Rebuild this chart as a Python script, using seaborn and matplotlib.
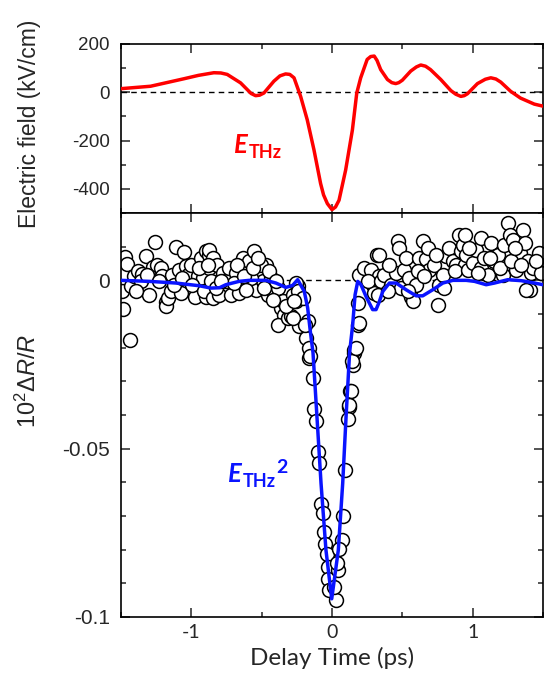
import matplotlib
matplotlib.use("Agg")
import matplotlib.pyplot as plt
import seaborn as sns

# THz electric field trace (ps, kV/cm)
field_t = [-1.50, -1.29, -1.053, -0.95, -0.84, -0.79, -0.745, -0.65, -0.575, -0.543,
           -0.515, -0.484, -0.413, -0.37, -0.33, -0.30, -0.27, -0.223, -0.176, -0.128,
           -0.081, -0.06, -0.033, 0.0, 0.025, 0.05, 0.097, 0.145, 0.176, 0.204,
           0.25, 0.275, 0.30, 0.32, 0.346, 0.394, 0.425, 0.453, 0.475, 0.50,
           0.56, 0.60, 0.631, 0.665, 0.70, 0.773, 0.845, 0.88, 0.916, 0.94,
           0.963, 1.034, 1.09, 1.129, 1.165, 1.20, 1.27, 1.34, 1.438, 1.504]
field_e = [15, 25, 56, 70, 81, 80, 74, 39, -5, -14,
           -12, -3, 46, 68, 76, 74, 60, -17, -114, -239,
           -378, -425, -461, -486, -475, -447, -322, -156, -3, 60,
           136, 148, 150, 132, 94, 53, 40, 36, 40, 50,
           88, 105, 113, 108, 94, 53, 7, -8, -17, -14,
           -6, 36, 54, 60, 55, 42, 4, -24, -49, -58]

# E_THz^2 curve (scaled to dR/R)
fit_t = [-1.50, -1.30, -1.11, -0.944, -0.861, -0.80, -0.755, -0.66, -0.589, -0.47,
         -0.399, -0.328, -0.28, -0.244, -0.197, -0.173, -0.154, -0.135, -0.107, -0.078,
         -0.043, -0.002, 0.045, 0.076, 0.100, 0.125, 0.147, 0.164, 0.183, 0.206,
         0.242, 0.289, 0.313, 0.335, 0.361, 0.408, 0.456, 0.527, 0.598, 0.645,
         0.716, 0.788, 0.859, 0.954, 1.013, 1.096, 1.155, 1.250, 1.345, 1.440, 1.50]
fit_v = [0.0, -0.0003, -0.0008, -0.0016, -0.0023, -0.0022, -0.0013, -0.0003, 0.0, 0.0,
         -0.0008, -0.0021, -0.0015, 0.0002, -0.0033, -0.0082, -0.0152, -0.0215, -0.0405, -0.0603,
         -0.0801, -0.0946, -0.0801, -0.0603, -0.0405, -0.0215, -0.0132, -0.0043, -0.0003, -0.0013,
         -0.0048, -0.0087, -0.0087, -0.0065, -0.0033, -0.0008, -0.0008, -0.0028, -0.0046, -0.0046,
         -0.0028, -0.0008, 0.0, 0.0, -0.0003, -0.0013, -0.0008, 0.0002, -0.0001, -0.0008, -0.0013]

# measured 10^2 dR/R
scan_t = [-1.471, -1.455, -1.490, -1.485, -1.438, -1.431, -1.407, -1.376, -1.348, -1.324,
          -1.300, -1.360, -1.272, -1.257, -1.241, -1.217, -1.205, -1.182, -1.177, -1.163,
          -1.146, -1.134, -1.106, -1.087, -1.075, -1.051, -1.039, -1.027, -1.004, -0.973,
          -0.956, -0.933, -0.916, -0.893, -0.897, -0.873,
          -1.395, -1.312, -1.229, -1.122, -1.063, -0.992, -0.945, -0.909, -0.873,
          -0.873, -0.849, -0.814, -0.861, -0.849, -0.802, -0.778, -0.755, -0.719, -0.731,
          -0.684, -0.660, -0.636, -0.612, -0.589, -0.553, -0.541, -0.517, -0.494, -0.470,
          -0.458, -0.434, -0.411, -0.387, -0.363, -0.339, -0.387, -0.316, -0.292, -0.351,
          -0.280, -0.256, -0.244, -0.233, -0.826, -0.695, -0.577, -0.506, -0.422, -0.328,
          -0.885, -0.790, -0.672, -0.624, -0.565, -0.529, -0.482, -0.446, -0.399, -0.612,
          -0.256, -0.244, -0.209, -0.268, -0.280, -0.173, -0.185, -0.161, -0.161, -0.192,
          -0.154, -0.138, -0.126, -0.114, -0.102, -0.090, -0.078, -0.066, -0.059, -0.050,
          -0.036, -0.026, -0.031, -0.019, 0.029,
          0.159, 0.147, 0.130, 0.123, 0.112, 0.093, 0.076, 0.069, 0.052, 0.045,
          0.017, 0.036, 0.183, 0.157, 0.145, 0.133, 0.121,
          0.182, 0.194, 0.171, 0.194, 0.230, 0.277, 0.289, 0.301, 0.320, 0.337, 0.254,
          0.337, 0.349, 0.373, 0.420, 0.456, 0.467, 0.479, 0.491, 0.515, 0.527,
          0.550, 0.562, 0.574, 0.598, 0.622, 0.645, 0.669, 0.681, 0.693, 0.728,
          0.752, 0.764, 0.788, 0.811, 0.835, 0.859, 0.882, 0.906, 0.918, 0.942,
          0.325, 0.396, 0.610, 0.408, 0.539, 0.657, 0.740, 0.799, 0.871, 0.930,
          0.942, 0.954, 0.966, 1.001, 1.025, 1.060, 1.060, 1.084, 1.108, 1.132,
          1.155, 1.179, 1.215, 1.226, 1.250, 1.262, 1.286, 1.310, 1.333, 1.357,
          1.369, 1.392, 1.404, 1.416, 1.428, 1.475, 1.487, 1.381,
          0.977, 1.037, 1.120, 1.191, 1.274, 1.298, 1.452, 1.345]
scan_v = [0.0068, 0.0050, -0.0031, -0.0085, -0.0178, -0.0018, 0.0012, 0.0027, 0.0019, 0.0071,
          -0.0043, -0.0003, 0.0039, 0.0114, 0.0047, 0.0037, 0.0012, -0.0064, -0.0077, -0.0051,
          -0.0033, 0.0017, 0.0098, 0.0032, -0.0038, 0.0084, 0.0042, 0.0017, 0.0047, -0.0048,
          0.0012, 0.0066, 0.0007, 0.0086, -0.0048, 0.0037,
          -0.0033, 0.0017, -0.0003, -0.0013, 0.0007, -0.0013, 0.0037, -0.0033, 0.0076,
          0.0091, 0.0066, 0.0047, -0.0003, -0.0053, -0.0043, 0.0022, -0.0003, -0.0043, 0.0037,
          0.0022, -0.0038, 0.0066, 0.0042, 0.0057, 0.0086, -0.0028, 0.0022, -0.0003, 0.0047,
          -0.0043, 0.0007, -0.0038, -0.0023, -0.0082, -0.0102, -0.0132, -0.0112, -0.0107, -0.0062,
          -0.0043, -0.0062, -0.0018, -0.0137, -0.0023, -0.0008, 0.0007, 0.0047, -0.0058, -0.0077,
          0.0047, -0.0003, 0.0047, 0.0012, 0.0037, 0.0066, -0.0023, 0.0027, -0.0003, -0.0028,
          -0.0008, -0.0033, -0.0053, -0.0062, -0.0112, -0.0122, -0.0171, -0.0201, -0.0231, -0.0132,
          -0.0226, -0.0291, -0.0383, -0.0417, -0.0509, -0.0542, -0.0665, -0.0691, -0.0747, -0.0782,
          -0.0812, -0.0851, -0.0886, -0.0921, -0.0951,
          -0.0216, -0.0251, -0.0330, -0.0377, -0.0413, -0.0562, -0.0700, -0.0772, -0.0799, -0.0861,
          -0.0911, -0.0841, -0.0132, -0.0206, -0.0241, -0.0330, -0.0369,
          -0.0067, -0.0127, -0.0201, 0.0017, 0.0037, 0.0032, -0.0013, -0.0038, 0.0076, 0.0012, -0.0003,
          0.0076, -0.0003, 0.0017, -0.0013, 0.0022, 0.0116, 0.0096, -0.0023, 0.0032, 0.0066,
          0.0007, -0.0048, -0.0062, -0.0013, 0.0066, 0.0116, 0.0062, 0.0096, 0.0032, 0.0047,
          -0.0072, -0.0013, 0.0017, 0.0071, 0.0096, 0.0057, 0.0047, 0.0136, 0.0086, 0.0047,
          -0.0043, -0.0033, 0.0027, 0.0047, -0.0033, 0.0012, 0.0076, -0.0023, 0.0027, 0.0106,
          0.0136, 0.0076, 0.0032, 0.0052, 0.0091, 0.0126, 0.0037, 0.0066, 0.0017, 0.0111,
          0.0057, 0.0076, 0.0017, 0.0106, 0.0171, 0.0136, 0.0121, 0.0032, 0.0081, 0.0151,
          0.0111, 0.0057, -0.0028, 0.0022, 0.0037, 0.0081, 0.0022, -0.0028,
          0.0096, 0.0022, 0.0066, 0.0037, 0.0057, 0.0096, 0.0057, 0.0047]

sns.set_style("ticks")
plt.rcParams["font.family"] = ["Liberation Sans", "DejaVu Sans"]
plt.rcParams["axes.unicode_minus"] = False
plt.rcParams["mathtext.fontset"] = "custom"
plt.rcParams["mathtext.rm"] = "Liberation Sans"
plt.rcParams["mathtext.it"] = "Liberation Sans:italic"
plt.rcParams["mathtext.bf"] = "Liberation Sans:bold"

fig = plt.figure(figsize=(5.47, 6.81), dpi=100)
ax1 = fig.add_axes([0.2212, 0.6872, 0.7715, 0.2482])
ax2 = fig.add_axes([0.2212, 0.0940, 0.7715, 0.5932], sharex=ax1)

# top: electric field
ax1.axhline(0, color="black", lw=1, ls=(0, (4, 3)), zorder=1)
sns.lineplot(x=field_t, y=field_e, ax=ax1, color="#ff0000", lw=2.5, estimator=None, zorder=3)
ax1.set_ylim(-500, 200)
ax1.set_yticks([-400, -200, 0, 200])
ax1.set_yticks(range(-500, 201, 100), minor=True)
ax1.set_yticklabels(["-400", "-200", "0", "200"], fontsize=13.5)
ax1.set_ylabel("Electric field (kV/cm)", fontsize=16.5)
ax1.yaxis.set_label_coords(-0.19, 0.53)
ax1.tick_params(labelbottom=False)

e1 = ax1.text(-0.70, -251, "E", color="#ff0000", fontsize=18.5, fontweight="bold",
              fontstyle="italic", family="Lato")
ax1.annotate("THz", xy=(1, 0), xycoords=e1, xytext=(1, -1), textcoords="offset points",
             color="#ff0000", fontsize=13, fontweight="bold", family="Lato", va="baseline")

# bottom: reflectivity change
ax2.axhline(0, color="black", lw=1, ls=(0, (4, 3)), zorder=1)
sns.scatterplot(x=scan_t, y=scan_v, ax=ax2, s=100, color="white", edgecolor="black",
                linewidth=1.1, zorder=2)
sns.lineplot(x=fit_t, y=fit_v, ax=ax2, color="#0a14ff", lw=2.5, estimator=None, zorder=3)
ax2.set_ylim(-0.1, 0.02)
ax2.set_yticks([-0.1, -0.05, 0])
ax2.set_yticks([-0.1 + 0.01 * i for i in range(13)], minor=True)
ax2.set_yticklabels(["-0.1", "-0.05", "0"], fontsize=15)
ax2.set_ylabel("$10^2$Δ$\\mathit{R}$/$\\mathit{R}$", fontsize=17)
ax2.yaxis.set_label_coords(-0.19, 0.585)

e2 = ax2.text(-0.74, -0.0599, "E", color="#0a14ff", fontsize=18.5, fontweight="bold",
              fontstyle="italic", family="Lato")
thz = ax2.annotate("THz", xy=(1, 0), xycoords=e2, xytext=(1, -1), textcoords="offset points",
                   color="#0a14ff", fontsize=13, fontweight="bold", family="Lato", va="baseline")
ax2.annotate("2", xy=(1, 1), xycoords=thz, xytext=(0, 0), textcoords="offset points",
             color="#0a14ff", fontsize=14, fontweight="bold", family="Lato", va="baseline")

ax2.set_xlim(-1.5, 1.5)
ax2.set_xticks([-1, 0, 1])
ax2.set_xticks([-1.5, -0.5, 0.5, 1.5], minor=True)
ax2.set_xticklabels(["-1", "0", "1"], fontsize=14, family="Lato")
ax2.set_xlabel("Delay Time (ps)", fontsize=17.5, family="Lato", labelpad=4)

for ax in (ax1, ax2):
    ax.tick_params(which="both", direction="in", top=True, right=True, width=1.1)
    ax.tick_params(which="major", length=6.5)
    ax.tick_params(which="minor", length=3.5)
    ax.tick_params(axis="y", pad=8)
    ax.tick_params(axis="x", pad=5)
    for sp in ax.spines.values():
        sp.set_linewidth(1.2)
        sp.set_color("black")

fig.savefig("out.png", dpi=100)
